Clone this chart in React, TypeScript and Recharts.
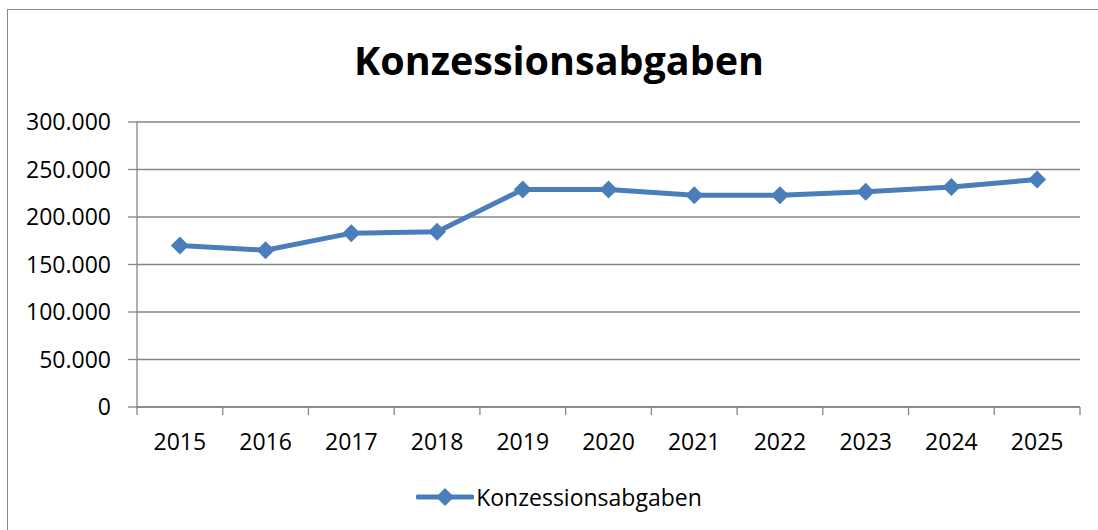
import React from "react";
import { LineChart, Line, XAxis, YAxis, CartesianGrid, Legend } from "recharts";

const years = ["2015", "2016", "2017", "2018", "2019", "2020", "2021", "2022", "2023", "2024", "2025"];
const abgaben = [170000, 165000, 183000, 184500, 229000, 229000, 223000, 223000, 226500, 231500, 239500];
const yTicks = [0, 50000, 100000, 150000, 200000, 250000, 300000];
const seriesName = "Konzessionsabgaben";

const data = years.map((y, i) => ({ year: y, value: abgaben[i] }));

const W = 1098;
const H = 530;
const X_H = 30;
const LEG_H = 32;
const M = { top: 122, right: 18, bottom: 123 - X_H - LEG_H, left: 0 };
const Y_W = 137;
const STEP = (W - M.right - M.left - Y_W) / years.length;

const BLUE = "#4A7EBB";
const GRID = "#868686";
const FONT = "'Open Sans', sans-serif";

const fmt = (v: number) => String(v).replace(/\B(?=(\d{3})+(?!\d))/g, ".");

const Diamond = (p: any) => {
  const { cx, cy } = p;
  if (cx == null || cy == null) return null;
  const r = 9;
  return <polygon points={`${cx},${cy - r} ${cx + r},${cy} ${cx},${cy + r} ${cx - r},${cy}`} fill={BLUE} />;
};

const XTick = (p: any) => {
  const { x, y, payload, index } = p;
  const last = index === years.length - 1;
  return (
    <g>
      <line x1={x - STEP / 2} x2={x - STEP / 2} y1={y} y2={y + 8} stroke={GRID} strokeWidth={1.3} />
      {last && <line x1={x + STEP / 2} x2={x + STEP / 2} y1={y} y2={y + 8} stroke={GRID} strokeWidth={1.3} />}
      <text x={x} y={y + 43} textAnchor="middle" fontSize={23} fontFamily={FONT} fill="#000">{payload.value}</text>
    </g>
  );
};

const LegendBox = () => (
  <div style={{ height: LEG_H, display: "flex", justifyContent: "center", alignItems: "center", fontFamily: FONT, fontSize: 23, color: "#000" }}>
    <svg width={58} height={20} style={{ marginRight: 2 }}>
      <line x1={2} x2={56} y1={10} y2={10} stroke={BLUE} strokeWidth={5} strokeLinecap="round" />
      <polygon points="29,1 38,10 29,19 20,10" fill={BLUE} />
    </svg>
    <span>{seriesName}</span>
  </div>
);

export default function App() {
  return (
    <div style={{ position: "absolute", left: 0, top: 0, width: W, height: H, overflow: "hidden", background: "#fff" }}>
      <div style={{ position: "absolute", left: 7, top: 9, width: 1104, height: 540, border: `1.5px solid ${GRID}`, boxSizing: "border-box" }} />
      <div style={{ position: "absolute", left: 8, width: 1102, top: 33, textAlign: "center", fontFamily: FONT, fontWeight: 700, fontSize: 39.5, color: "#000" }}>
        {seriesName}
      </div>
      <div style={{ position: "absolute", left: 0, top: 0 }}>
        <LineChart width={W} height={H} data={data} margin={M}>
          <CartesianGrid horizontal vertical={false} stroke={GRID} strokeWidth={1.3} />
          <XAxis
            dataKey="year"
            height={X_H}
            padding={{ left: STEP / 2, right: STEP / 2 }}
            axisLine={{ stroke: GRID, strokeWidth: 1.3 }}
            tickLine={false}
            tickSize={0}
            tickMargin={0}
            tick={<XTick />}
            interval={0}
          />
          <YAxis
            width={Y_W}
            domain={[0, 300000]}
            ticks={yTicks}
            tickFormatter={fmt}
            axisLine={{ stroke: GRID, strokeWidth: 1.3 }}
            tickLine={{ stroke: GRID, strokeWidth: 1.3 }}
            tickSize={9}
            tickMargin={17}
            tick={{ fontSize: 23, fontFamily: FONT, fill: "#000" }}
          />
          <Legend verticalAlign="bottom" height={LEG_H} content={<LegendBox />} wrapperStyle={{ left: 8, width: 1102, bottom: 17 }} />
          <Line type="linear" dataKey="value" name={seriesName} stroke={BLUE} strokeWidth={5} dot={<Diamond />} activeDot={false} isAnimationActive={false} />
        </LineChart>
      </div>
    </div>
  );
}
